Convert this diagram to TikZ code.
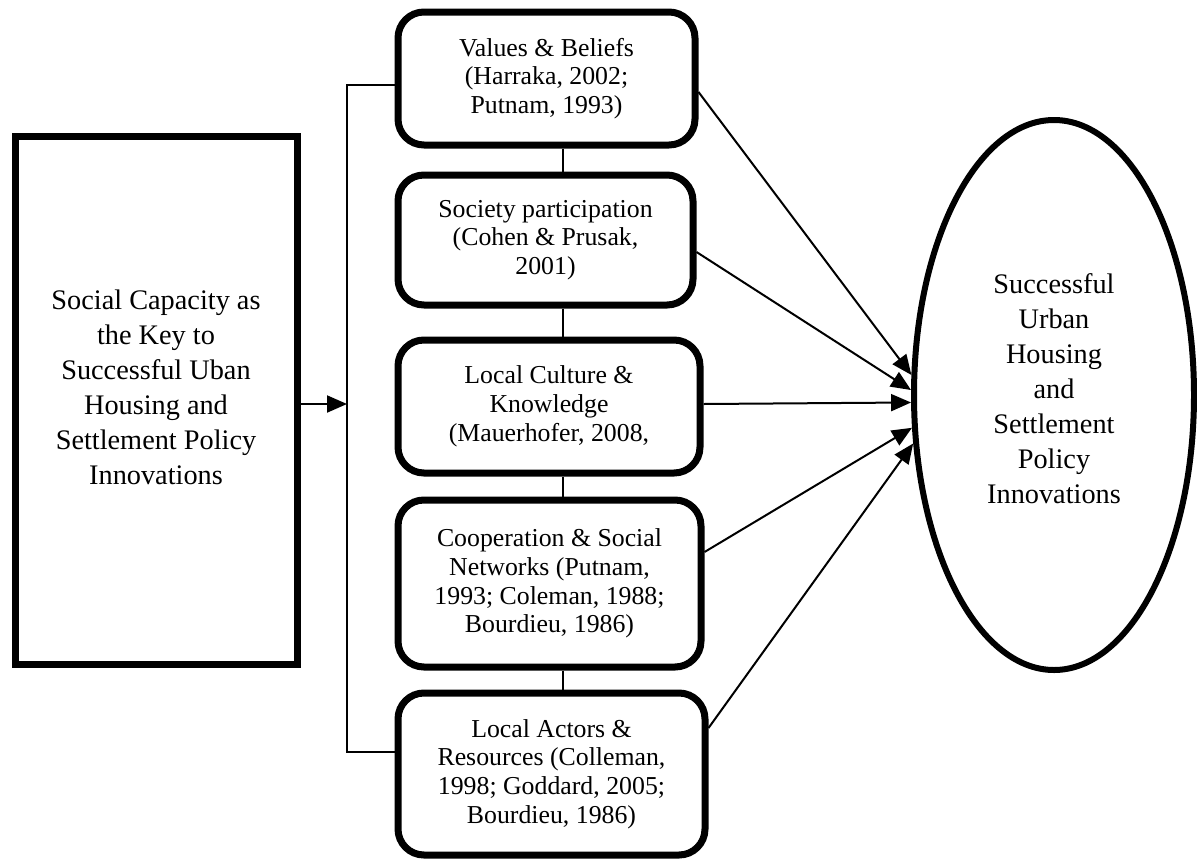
\documentclass[tikz,border=0pt]{standalone}
\usepackage{fontspec}
\setmainfont{Liberation Serif}
\usetikzlibrary{shapes.geometric,arrows.meta}
\begin{document}
\begin{tikzpicture}[x=1pt,y=-1pt,
  boxtext/.style={font=\fontsize{25.8}{28.8}\selectfont, align=center},
  bigtext/.style={font=\fontsize{28.3}{35}\selectfont, align=center},
  rbox/.style={draw, line width=7pt, rounded corners=26pt, inner sep=0pt, boxtext},
  thin/.style={line width=2pt},
  arr/.style={line width=2pt, -{Triangle[length=20pt,width=17pt]}}
]
\useasboundingbox (0,0) rectangle (1197,863);

% left box
\node[draw, line width=7pt, minimum width=282pt, minimum height=528pt, inner sep=0pt] (L) at (156,400) {};
\node[bigtext] (Lt) at (156,387) {Social Capacity as\\the Key to\\Successful Uban\\Housing and\\Settlement Policy\\Innovations};

% middle boxes
\node[rbox, minimum width=297pt, minimum height=133pt] (b1) at (546.5,78.5) {Values \& Beliefs\\(Harraka, 2002;\\Putnam, 1993)};
\node[rbox, minimum width=295pt, minimum height=130pt] (b2) at (545.5,240) {Society participation\\(Cohen \& Prusak,\\2001)};
\node[rbox, minimum width=302pt, minimum height=133pt] (b3) at (549,406.5) {Local Culture \&\\Knowledge\\(Mauerhofer, 2008,};
\node[rbox, minimum width=303pt, minimum height=167pt] (b4) at (549.5,583.5) {Cooperation \& Social\\Networks (Putnam,\\1993; Coleman, 1988;\\Bourdieu, 1986)};
\node[rbox, minimum width=307pt, minimum height=162pt] (b5) at (551.5,774) {Local Actors \&\\Resources (Colleman,\\1998; Goddard, 2005;\\Bourdieu, 1986)};

% ellipse
\node[draw, ellipse, line width=6pt, minimum width=280pt, minimum height=550pt, inner sep=0pt] (E) at (1054,395) {};
\node[bigtext] (Et) at (1054,389) {Successful\\Urban\\Housing\\and\\Settlement\\Policy\\Innovations};

% vertical links between boxes
\coordinate (cx) at (563,0);
\draw[thin] (b1.south -| cx) -- (b2.north -| cx);
\draw[thin] (b2.south -| cx) -- (b3.north -| cx);
\draw[thin] (b3.south -| cx) -- (b4.north -| cx);
\draw[thin] (b4.south -| cx) -- (b5.north -| cx);

% bracket
\coordinate (bt) at (347,85);
\coordinate (bb) at (347,752);
\coordinate (am) at (347,404);
\draw[thin] (bt -| b1.west) -- (bt) -- (bb) -- (bb -| b5.west);
\draw[arr] (L.east |- am) -- (am);

% arrows to ellipse
\draw[arr] (b1.east |- 0,92) -- (E.172.7);
\draw[arr] (b2.east |- 0,252) -- (E.178.6);
\draw[arr] (b3.east |- 0,404) -- (E.183.3);
\draw[arr] (b4.east |- 0,552) -- (E.193);
\draw[arr] (b5.east |- 0,728) -- (E.199);
\end{tikzpicture}
\end{document}
